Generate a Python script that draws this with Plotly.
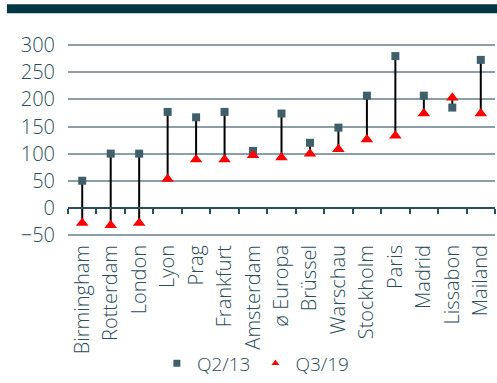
import plotly.graph_objects as go

categories = ["Birmingham", "Rotterdam", "London", "Lyon", "Prag", "Frankfurt",
              "Amsterdam", "ø Europa", "Brüssel", "Warschau", "Stockholm",
              "Paris", "Madrid", "Lissabon", "Mailand"]
q2_13 = [50, 100, 100, 177, 167, 177, 105, 174, 120, 148, 207, 280, 207, 185, 273]
q3_19 = [-28, -32, -28, 53, 89, 89, 97, 93, 100, 108, 126, 133, 174, 203, 174]
y_ticks = [-50, 0, 50, 100, 150, 200, 250, 300]

TEAL = "#2c4d5a"
GRID = "#8c9fa6"
FONT = "Open Sans"
FS = 20
ymin, ymax = -52, 306

lx, ly = [], []
for c, a, b in zip(categories, q2_13, q3_19):
    lx += [c, c, None]
    ly += [a, b, None]

fig = go.Figure()
fig.add_trace(go.Scatter(x=lx, y=ly, mode="lines", line=dict(color="black", width=2),
                         showlegend=False, hoverinfo="skip"))
fig.add_trace(go.Scatter(x=categories, y=q2_13, mode="markers", name="Q2/13",
                         showlegend=False,
                         marker=dict(symbol="square", size=8, color="#3f5f6b")))
fig.add_trace(go.Scatter(x=categories, y=q3_19, mode="markers", name="Q3/19",
                         showlegend=False,
                         marker=dict(symbol="triangle-up", size=11, color="#ff0000")))
# legend entries with the smaller legend symbols
fig.add_trace(go.Scatter(x=[categories[0]], y=[None], mode="markers", name="Q2/13",
                         marker=dict(symbol="square", size=7, color="#3f5f6b")))
fig.add_trace(go.Scatter(x=[categories[0]], y=[None], mode="markers", name="Q3/19",
                         marker=dict(symbol="triangle-up", size=7, color="#ff0000")))
# invisible trace to drive the axis at zero
fig.add_trace(go.Scatter(x=categories, y=[None] * len(categories), xaxis="x2",
                         showlegend=False, hoverinfo="skip"))

zero_pos = (0 - ymin) / (ymax - ymin)
tf = dict(size=FS, color=TEAL, family=FONT, weight=300)

fig.update_layout(
    width=497, height=383,
    margin=dict(l=67.7, r=2, t=41.5, b=147, autoexpand=False),
    paper_bgcolor="white", plot_bgcolor="white",
    font=dict(family=FONT, color=TEAL, size=FS, weight=300),
    showlegend=True,
    legend=dict(orientation="h", x=0.44, xanchor="center", y=-0.755, yanchor="bottom",
                font=dict(size=19, color=TEAL, family=FONT, weight=300),
                itemwidth=30, tracegroupgap=0, borderwidth=0,
                bgcolor="rgba(0,0,0,0)"),
    xaxis=dict(type="category", categoryorder="array", categoryarray=categories,
               range=[-0.5, len(categories) - 0.5], automargin=False,
               showgrid=False, showline=False, zeroline=False, ticks="",
               tickangle=-90, tickfont=tf, ticklabelstandoff=4),
    xaxis2=dict(type="category", categoryorder="array", categoryarray=categories,
                range=[-0.5, len(categories) - 0.5], overlaying="x",
                anchor="free", position=zero_pos, side="bottom",
                showgrid=False, showline=True, linecolor=TEAL, linewidth=2,
                ticks="outside", ticklen=5, tickwidth=2, tickcolor=TEAL,
                tickson="boundaries", showticklabels=False, zeroline=False),
    yaxis=dict(range=[ymin, ymax], tickvals=y_ticks, showgrid=True, gridcolor=GRID,
               gridwidth=2, zeroline=False, showline=False, automargin=False,
               tickfont=tf, ticklabelstandoff=12),
    shapes=[dict(type="rect", xref="paper", yref="paper",
                 x0=-0.143, x1=1.01, y0=1.148, y1=1.194,
                 fillcolor="#003744", line=dict(width=0), layer="above")],
)

fig.write_html("out.html")
